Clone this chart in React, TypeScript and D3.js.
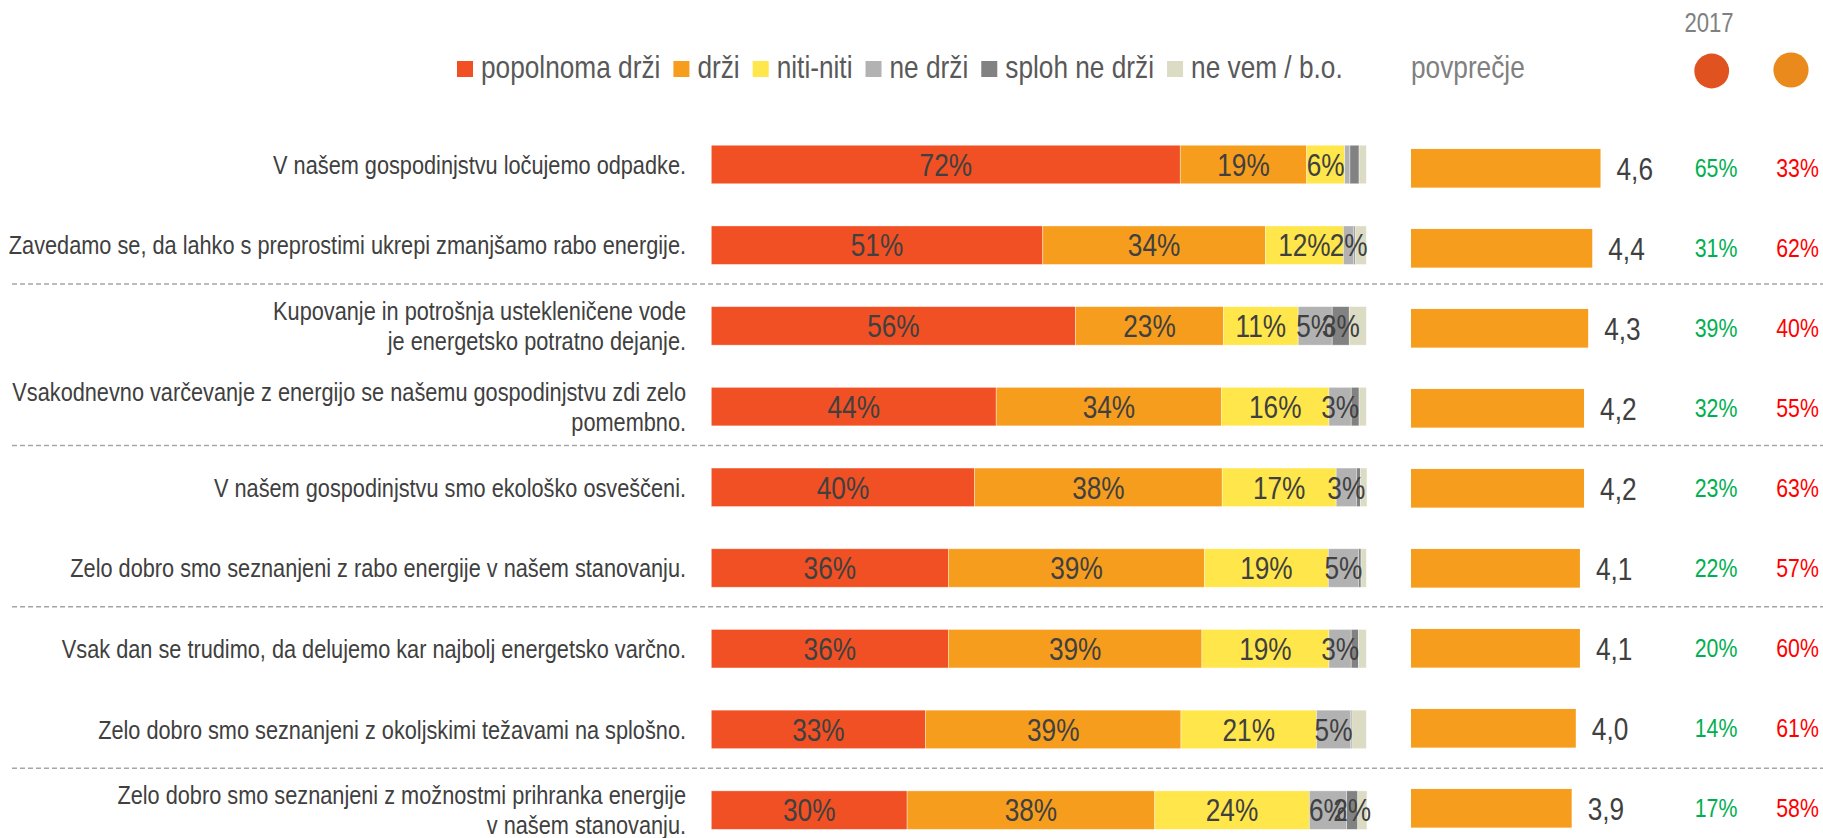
import React from "react";
import * as d3 from "d3";

// ---------- DATA ----------
const categories: string[][] = [
  ["V našem gospodinjstvu ločujemo odpadke."],
  ["Zavedamo se, da lahko s preprostimi ukrepi zmanjšamo rabo energije."],
  ["Kupovanje in potrošnja ustekleničene vode", "je energetsko potratno dejanje."],
  ["Vsakodnevno varčevanje z energijo se našemu gospodinjstvu zdi zelo", "pomembno."],
  ["V našem gospodinjstvu smo ekološko osveščeni."],
  ["Zelo dobro smo seznanjeni z rabo energije v našem stanovanju."],
  ["Vsak dan se trudimo, da delujemo kar najbolj energetsko varčno."],
  ["Zelo dobro smo seznanjeni z okoljskimi težavami na splošno."],
  ["Zelo dobro smo seznanjeni z možnostmi prihranka energije", "v našem stanovanju."],
];

const seriesNames = ["popolnoma drži", "drži", "niti-niti", "ne drži", "sploh ne drži", "ne vem / b.o."];
const popolnomaDrzi = [71.6, 50.6, 55.6, 43.5, 40.2, 36.2, 36.2, 32.7, 29.9];
const drzi = [19.3, 34.0, 22.6, 34.4, 37.8, 39.1, 38.7, 39.0, 37.8];
const nitiNiti = [5.8, 11.9, 11.4, 16.4, 17.4, 18.9, 19.4, 20.7, 23.6];
const neDrzi = [0.8, 1.6, 5.2, 3.4, 3.1, 4.6, 3.4, 5.2, 5.7];
const splohNeDrzi = [1.4, 0.2, 2.6, 1.2, 0.6, 0.4, 1.1, 0.2, 1.7];
const neVem = [1.1, 1.7, 2.6, 1.1, 1.0, 0.8, 1.2, 2.2, 1.4];

const povprecje = [4.6, 4.4, 4.3, 4.2, 4.2, 4.1, 4.1, 4.0, 3.9];
const greenPct = [65, 31, 39, 32, 23, 22, 20, 14, 17];
const redPct = [33, 62, 40, 55, 63, 57, 60, 61, 58];
const yearLabel = "2017";
const meanLabel = "povprečje";

// ---------- STYLE ----------
const FONT = "'Liberation Sans', Arial, Helvetica, sans-serif";
const SX = 0.82; // narrow font emulation
const colors = ["#F05023", "#F79D1E", "#FFE64B", "#B2B2B2", "#828282", "#DCDCC4"];
const meanColor = "#F79D1E";
const labelColor = "#404040";

const W = 1823;
const H = 838;

function NText(props: {
  x: number; y: number; size: number; fill: string; anchor?: string; dy?: string; children: React.ReactNode;
}) {
  const { x, y, size, fill, anchor = "start", dy = "0", children } = props;
  return (
    <text
      transform={`translate(${x},${y}) scale(${SX},1)`}
      fontSize={size}
      fill={fill}
      textAnchor={anchor as any}
      dy={dy}
      fontFamily={FONT}
    >
      {children}
    </text>
  );
}

function measure(text: string, size: number): number {
  const c = document.createElement("canvas").getContext("2d");
  if (!c) return text.length * size * 0.5 * SX;
  c.font = `${size}px ${FONT}`;
  return c.measureText(text).width * SX;
}

export default function App() {
  const idx = categories.map((_, i) => i);
  const seriesValues = [popolnomaDrzi, drzi, nitiNiti, neDrzi, splohNeDrzi, neVem];

  const rows = idx.map((i) => {
    const o: any = { i };
    seriesNames.forEach((s, k) => (o[s] = seriesValues[k][i]));
    return o;
  });
  const stacked = d3.stack<any>().keys(seriesNames)(rows);

  const xStack = d3.scaleLinear().domain([0, 100]).range([711.3, 1366.3]);
  const yStack = d3.scalePoint<number>().domain(idx).range([164.5, 810.1]);
  const barH = 38.5;

  const xMean = d3.scaleLinear().domain([0, 5]).range([1411, 1617]);
  const yMean = d3.scalePoint<number>().domain(idx).range([168.3, 808.3]);
  const meanH = 38.7;

  const fmtMean = (v: number) => d3.format(".1f")(v).replace(".", ",");

  // legend layout
  const legendSize = 32;
  let lx = 457;
  const legendItems = seriesNames.map((name, k) => {
    const item = { name, color: colors[k], x: lx };
    lx += 16 + 8 + measure(name, legendSize) + 13;
    return item;
  });

  const separators = [1, 3, 5, 7].map((i) => (yStack(i)! + yStack(i + 1)!) / 2 - 1.5);

  return (
    <svg width={W} height={H} style={{ position: "absolute", left: 0, top: 0, background: "#fff" }}>
      {/* legend */}
      {legendItems.map((it) => (
        <g key={it.name}>
          <rect x={it.x} y={61} width={16} height={16} fill={it.color} />
          <NText x={it.x + 24} y={78} size={legendSize} fill="#595959">
            {it.name}
          </NText>
        </g>
      ))}
      <NText x={1411} y={78} size={32} fill="#808080">
        {meanLabel}
      </NText>
      <NText x={1709} y={31.5} size={27} fill="#808080" anchor="middle">
        {yearLabel}
      </NText>
      <circle cx={1711.7} cy={71} r={17.4} fill="#E0521F" />
      <circle cx={1791} cy={70} r={17.6} fill="#EA8A1C" />

      {/* separators */}
      {separators.map((y, k) => (
        <line key={k} x1={12} x2={W} y1={y} y2={y} stroke="#A6A6A6" strokeWidth={1.5} strokeDasharray="5,3" />
      ))}

      {/* category labels */}
      {categories.map((lines, i) => {
        const cy = yStack(i)!;
        const n = lines.length;
        return lines.map((ln, j) => (
          <NText key={`${i}-${j}`} x={686} y={cy + (j - (n - 1) / 2) * 30} size={26.5} fill={labelColor} anchor="end" dy="0.35em">
            {ln}
          </NText>
        ));
      })}

      {/* stacked bars */}
      {stacked.map((layer, k) => (
        <g key={layer.key} fill={colors[k]}>
          {layer.map((d, i) => {
            const x0 = xStack(d[0]);
            const x1 = xStack(d[1]);
            return (
              <rect
                key={i}
                x={x0}
                y={yStack(i)! - barH / 2}
                width={Math.max(0, x1 - x0)}
                height={barH}
                stroke="#ffffff"
                strokeOpacity={0.5}
                strokeWidth={0.75}
              />
            );
          })}
        </g>
      ))}
      {stacked.map((layer, k) =>
        k === seriesNames.length - 1
          ? null
          : layer.map((d, i) => {
              const v = d[1] - d[0];
              const r = Math.round(v);
              if (r < 2) return null;
              return (
                <NText
                  key={`${k}-${i}`}
                  x={(xStack(d[0]) + xStack(d[1])) / 2}
                  y={yStack(i)!}
                  size={32}
                  fill={labelColor}
                  anchor="middle"
                  dy="0.35em"
                >
                  {`${r}%`}
                </NText>
              );
            })
      )}

      {/* mean bars */}
      {povprecje.map((v, i) => (
        <g key={i}>
          <rect x={xMean(0)} y={yMean(i)! - meanH / 2} width={xMean(v) - xMean(0)} height={meanH} fill={meanColor} />
          <NText x={xMean(v) + 16} y={yMean(i)!} size={32} fill={labelColor} dy="0.35em">
            {fmtMean(v)}
          </NText>
          <NText x={1716} y={yMean(i)!} size={26} fill="#00B050" anchor="middle" dy="0.35em">
            {`${greenPct[i]}%`}
          </NText>
          <NText x={1797.5} y={yMean(i)!} size={26} fill="#FF0000" anchor="middle" dy="0.35em">
            {`${redPct[i]}%`}
          </NText>
        </g>
      ))}
    </svg>
  );
}
